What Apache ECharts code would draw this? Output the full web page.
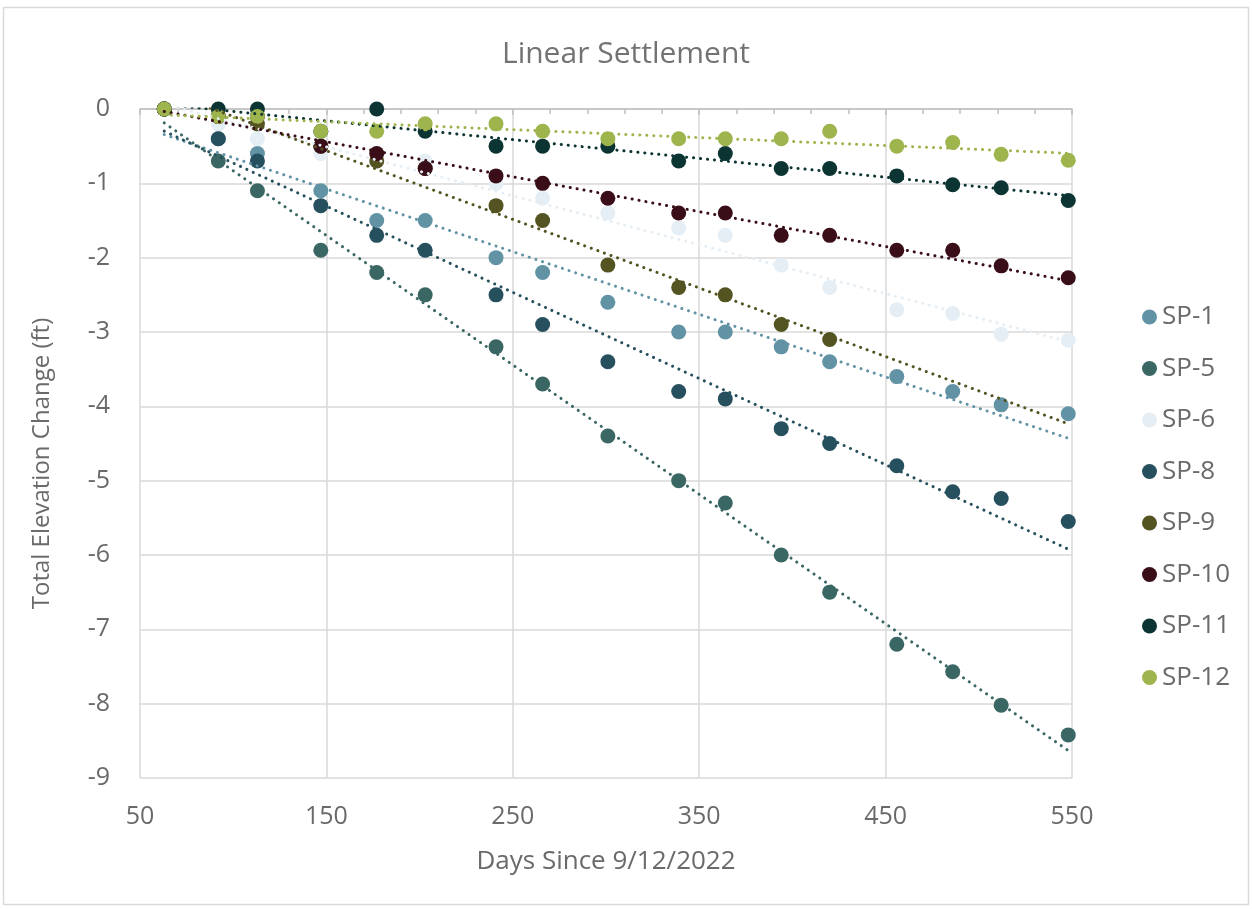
<!DOCTYPE html>
<html>
<head>
<meta charset="utf-8">
<title>Linear Settlement</title>
<script src="https://cdn.jsdelivr.net/npm/echarts@6/dist/echarts.min.js"></script>
<style>
  html, body { margin: 0; padding: 0; background: #ffffff; }
  #chart { width: 1252px; height: 909px; }
</style>
</head>
<body>
<div id="chart"></div>
<script>
// Survey days (days since 9/12/2022)
const days = [63, 92, 113, 147, 177, 203, 241, 266, 301, 339, 364, 394, 420, 456, 486, 512, 548];

// Total elevation change (ft) per settlement plate; null = no reading
const sp1  = [0, -0.4, -0.6, -1.1, -1.5, -1.5, -2.0, -2.2, -2.6, -3.0, -3.0, -3.2, -3.4, -3.6, -3.8, -3.98, -4.1];
const sp5  = [0, -0.7, -1.1, -1.9, -2.2, -2.5, -3.2, -3.7, -4.4, -5.0, -5.3, -6.0, -6.5, -7.2, -7.57, -8.02, -8.42];
const sp6  = [0, -0.2, -0.4, -0.6, -0.7, -0.7, -1.0, -1.2, -1.4, -1.6, -1.7, -2.1, -2.4, -2.7, -2.75, -3.03, -3.11];
const sp8  = [0, -0.4, -0.7, -1.3, -1.7, -1.9, -2.5, -2.9, -3.4, -3.8, -3.9, -4.3, -4.5, -4.8, -5.15, -5.24, -5.55];
const sp9  = [0, -0.1, -0.2, -0.5, -0.7, -0.8, -1.3, -1.5, -2.1, -2.4, -2.5, -2.9, -3.1, null, null, null, null];
const sp10 = [0, -0.1, -0.1, -0.5, -0.6, -0.8, -0.9, -1.0, -1.2, -1.4, -1.4, -1.7, -1.7, -1.9, -1.9, -2.11, -2.27];
const sp11 = [0, 0, 0, -0.3, 0, -0.3, -0.5, -0.5, -0.5, -0.7, -0.6, -0.8, -0.8, -0.9, -1.02, -1.06, -1.23];
const sp12 = [0, -0.1, -0.1, -0.3, -0.3, -0.2, -0.2, -0.3, -0.4, -0.4, -0.4, -0.4, -0.3, -0.5, -0.45, -0.61, -0.69];

const seriesNames = ['SP-1', 'SP-5', 'SP-6', 'SP-8', 'SP-9', 'SP-10', 'SP-11', 'SP-12'];
const seriesValues = [sp1, sp5, sp6, sp8, sp9, sp10, sp11, sp12];
const seriesColors = ['#6193A5', '#3A6764', '#E5EEF4', '#27505F', '#545422', '#3A0E18', '#0B3432', '#9EB44D'];

// Axis ticks
const xTicks = { min: 50, max: 550, step: 100 };
const yTicks = { min: -9, max: 0, step: 1 };

const FONT = 'Open Sans';
const TEXT_GREY = '#6A6A6A';

// Least-squares linear trend of one series, drawn across the survey span
function trendLine(values) {
  const pts = [];
  values.forEach((v, i) => { if (v !== null) pts.push([days[i], v]); });
  const n = pts.length;
  let sx = 0, sy = 0, sxx = 0, sxy = 0;
  pts.forEach(([x, y]) => { sx += x; sy += y; sxx += x * x; sxy += x * y; });
  const slope = (n * sxy - sx * sy) / (n * sxx - sx * sx);
  const icpt = (sy - slope * sx) / n;
  const x0 = days[0], x1 = days[days.length - 1];
  return [[x0, icpt + slope * x0], [x1, icpt + slope * x1]];
}

const series = [];
seriesNames.forEach((name, k) => {
  const pts = [];
  seriesValues[k].forEach((v, i) => { if (v !== null) pts.push([days[i], v]); });
  series.push({
    name: name,
    type: 'scatter',
    data: pts,
    symbol: 'circle',
    symbolSize: 15,
    itemStyle: { color: seriesColors[k], opacity: 1 },
    z: 2,
    silent: true
  });
});
seriesNames.forEach((name, k) => {
  series.push({
    name: name + ' trend',
    type: 'line',
    data: trendLine(seriesValues[k]),
    showSymbol: false,
    symbol: 'none',
    lineStyle: { color: seriesColors[k], width: 3, type: [0.1, 6.9], cap: 'round' },
    z: 3,
    silent: true
  });
});

const chart = echarts.init(document.getElementById('chart'), null, { renderer: 'canvas' });
chart.setOption({
  backgroundColor: '#ffffff',
  animation: false,
  graphic: [{
    type: 'rect',
    shape: { x: 3.5, y: 7.5, width: 1245, height: 897 },
    style: { fill: 'none', stroke: '#D9D9D9', lineWidth: 1.5 },
    silent: true,
    z: -1
  }],
  title: {
    text: 'Linear Settlement',
    left: 'center',
    top: 34,
    textStyle: { fontFamily: FONT, fontSize: 30, fontWeight: 'normal', color: '#737373' }
  },
  legend: {
    orient: 'vertical',
    left: 1137,
    top: 299,
    data: seriesNames,
    icon: 'circle',
    itemWidth: 15,
    itemHeight: 15,
    itemGap: 25.5,
    textStyle: { fontFamily: FONT, fontSize: 26, lineHeight: 26, color: TEXT_GREY },
    selectedMode: false
  },
  grid: { left: 140, right: 180, top: 109, bottom: 131 },
  xAxis: {
    type: 'value',
    min: xTicks.min,
    max: xTicks.max,
    interval: xTicks.step,
    name: 'Days Since 9/12/2022',
    nameLocation: 'middle',
    nameGap: 71,
    nameTextStyle: { fontFamily: FONT, fontSize: 26, color: TEXT_GREY },
    axisLine: { show: true, lineStyle: { color: '#BFBFBF', width: 1.5 } },
    axisTick: { show: true, length: 6, lineStyle: { color: '#BFBFBF', width: 1.5 } },
    minorTick: { show: true, splitNumber: 5, length: 5, lineStyle: { color: '#BFBFBF', width: 1.5 } },
    axisLabel: { fontFamily: FONT, fontSize: 25, color: TEXT_GREY, margin: 26 },
    splitLine: { show: true, lineStyle: { color: '#D9D9D9', width: 1.5 } }
  },
  yAxis: {
    type: 'value',
    min: yTicks.min,
    max: yTicks.max,
    interval: yTicks.step,
    name: 'Total Elevation Change (ft)',
    nameLocation: 'middle',
    nameGap: 86,
    nameRotate: 90,
    nameTextStyle: { fontFamily: FONT, fontSize: 24, color: TEXT_GREY, padding: [0, 40, 0, 0] },
    axisLine: { show: false },
    axisTick: { show: false },
    axisLabel: { fontFamily: FONT, fontSize: 25, color: TEXT_GREY, margin: 30 },
    splitLine: { show: true, lineStyle: { color: '#D9D9D9', width: 1.5 } }
  },
  series: series
});
</script>
</body>
</html>
